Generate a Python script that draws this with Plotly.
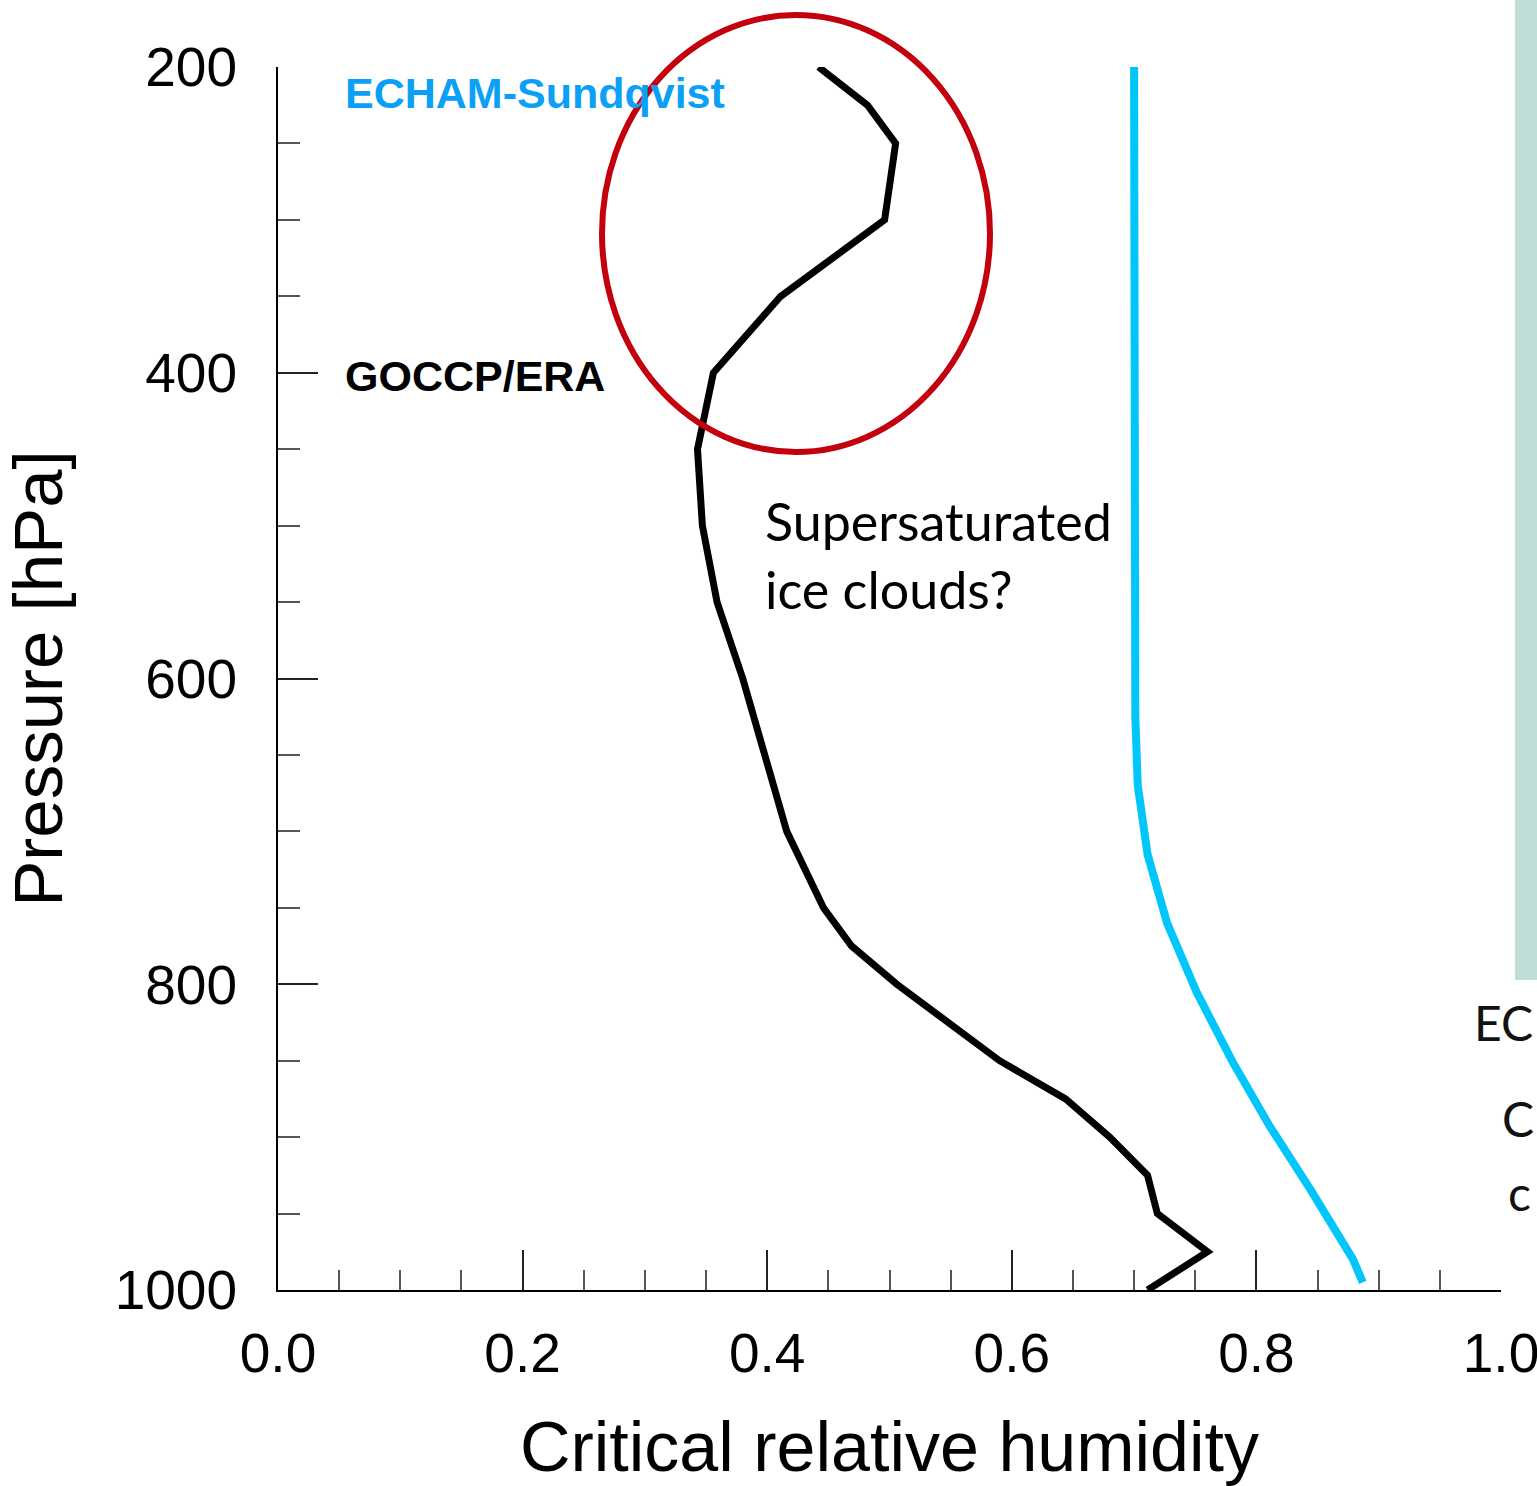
import plotly.graph_objects as go

# ---- data ----
goccp_pressure = [200, 225, 250, 300, 350, 400, 450, 500, 550, 600, 650, 700, 750, 775, 800, 850, 875, 900, 925, 950, 975, 1000]
goccp_crh = [0.442, 0.482, 0.505, 0.496, 0.411, 0.356, 0.343, 0.347, 0.359, 0.380, 0.398, 0.416, 0.446, 0.469, 0.506, 0.590, 0.644, 0.680, 0.711, 0.719, 0.760, 0.711]

echam_pressure = [200, 300, 400, 500, 550, 625, 670, 715, 760, 805, 850, 893, 934, 980, 995]
echam_crh = [0.700, 0.700, 0.700, 0.7005, 0.7007, 0.7010, 0.703, 0.711, 0.727, 0.751, 0.780, 0.811, 0.844, 0.879, 0.887]

x_ticks = [0.0, 0.2, 0.4, 0.6, 0.8, 1.0]
x_ticklabels = ["0.0", "0.2", "0.4", "0.6", "0.8", "1.0"]
y_ticks = [200, 400, 600, 800, 1000]
y_ticklabels = ["200", "400", "600", "800", "1000"]

W, H = 1537, 1486
L, R, T, B = 278, 36, 67, 196
PW, PH = W - L - R, H - T - B


def px(xpix):
    return (xpix - L) / PW


def py(ypix):
    return (H - B - ypix) / PH


fig = go.Figure()
fig.add_trace(go.Scatter(x=echam_crh, y=echam_pressure, mode="lines",
                         line=dict(color="#00c6fb", width=8), hoverinfo="skip"))
fig.add_trace(go.Scatter(x=goccp_crh, y=goccp_pressure, mode="lines",
                         line=dict(color="#000000", width=7), hoverinfo="skip"))

tickfont = dict(family="Liberation Sans, Arial, sans-serif", size=55, color="#000")

fig.update_layout(
    width=W, height=H,
    margin=dict(l=L, r=R, t=T, b=B),
    paper_bgcolor="white", plot_bgcolor="white",
    showlegend=False,
    xaxis=dict(range=[0, 1], tickvals=x_ticks, ticktext=x_ticklabels,
               ticks="inside", ticklen=40, tickwidth=2, tickcolor="#222",
               minor=dict(ticks="inside", ticklen=20, tickwidth=1.5, tickcolor="#555", dtick=0.05, tick0=0),
               showline=True, linecolor="#000", linewidth=2, showgrid=False, zeroline=False,
               tickfont=tickfont, ticklabelstandoff=14, ticklabeloverflow="allow", automargin=False,
               title=dict(text="Critical relative humidity",
                          font=dict(family="Liberation Sans, Arial, sans-serif", size=70, color="#000"),
                          standoff=40)),
    yaxis=dict(range=[1000, 200], tickvals=y_ticks, ticktext=y_ticklabels,
               ticks="inside", ticklen=40, tickwidth=2, tickcolor="#222",
               minor=dict(ticks="inside", ticklen=22, tickwidth=1.5, tickcolor="#555", dtick=50, tick0=0),
               showline=True, linecolor="#000", linewidth=2, showgrid=False, zeroline=False,
               tickfont=tickfont, ticklabelstandoff=28, ticklabeloverflow="allow", automargin=False,
               title=dict(text="Pressure [hPa]",
                          font=dict(family="Liberation Sans, Arial, sans-serif", size=69, color="#000"),
                          standoff=30)),
)

# red ellipse highlight
fig.add_shape(type="circle", xref="paper", yref="paper",
              x0=px(602), x1=px(990), y0=py(452), y1=py(15),
              line=dict(color="#c3000e", width=6))

# right-edge slide fragment
fig.add_shape(type="rect", xref="paper", yref="paper",
              x0=px(1515), x1=px(1545), y0=py(980), y1=py(-5),
              line=dict(width=0), fillcolor="#c0dcd6", layer="below")

fig.add_annotation(x=px(343), y=py(93), xref="paper", yref="paper", xanchor="left", yanchor="middle",
                   text="<b>ECHAM-Sundqvist</b>", showarrow=False,
                   font=dict(family="Liberation Sans, Arial, sans-serif", size=43, color="#0aa0f5"))
fig.add_annotation(x=px(343), y=py(376), xref="paper", yref="paper", xanchor="left", yanchor="middle",
                   text="<b>GOCCP/ERA</b>", showarrow=False,
                   font=dict(family="Liberation Sans, Arial, sans-serif", size=43, color="#000"))
fig.add_annotation(x=px(763), y=py(555), xref="paper", yref="paper", xanchor="left", yanchor="middle",
                   text="Supersaturated<br>ice clouds?", showarrow=False, align="left",
                   font=dict(family="Lato, sans-serif", size=52, color="#000"))
fig.add_annotation(x=px(1472), y=py(1022), xref="paper", yref="paper", xanchor="left", yanchor="middle",
                   text="EC", showarrow=False,
                   font=dict(family="Lato, sans-serif", size=48, color="#111"))
fig.add_annotation(x=px(1500), y=py(1118), xref="paper", yref="paper", xanchor="left", yanchor="middle",
                   text="C", showarrow=False,
                   font=dict(family="Lato, sans-serif", size=48, color="#111"))
fig.add_annotation(x=px(1506), y=py(1192), xref="paper", yref="paper", xanchor="left", yanchor="middle",
                   text="c", showarrow=False,
                   font=dict(family="Lato, sans-serif", size=48, color="#111"))

fig.write_html("out.html")
